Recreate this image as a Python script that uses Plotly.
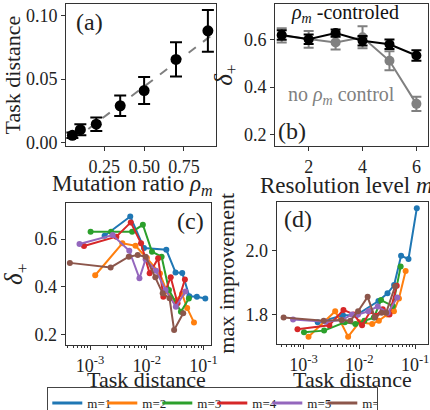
import plotly.graph_objects as go

# ---------------- data ----------------
# (a) task distance vs mutation ratio
rho = [0.05, 0.1, 0.2, 0.35, 0.5, 0.7, 0.9]
task_dist = [0.0058, 0.0102, 0.0145, 0.029, 0.041, 0.0655, 0.088]
task_err = [0.0022, 0.0043, 0.0053, 0.008, 0.0106, 0.0134, 0.0164]
fit_x = [0.15, 0.95]
fit_y = [0.0108, 0.087]

# (b) delta+ vs resolution level
levels = [1, 2, 3, 4, 5, 6]
ctrl = [0.618, 0.600, 0.626, 0.594, 0.579, 0.532]
ctrl_err = [0.02, 0.02, 0.015, 0.02, 0.02, 0.022]
noctrl = [0.616, 0.600, 0.587, 0.608, 0.510, 0.330]
noctrl_err = [0.03, 0.035, 0.03, 0.046, 0.04, 0.03]

# (c)/(d) per resolution level m
names = ["m=1", "m=2", "m=3", "m=4", "m=5", "m=6"]
colors = ["#1f77b4", "#ff7f0e", "#2ca02c", "#d62728", "#9467bd", "#8c564b"]
dist_m1 = [0.0018, 0.0051, 0.0089, 0.022, 0.032, 0.042, 0.056, 0.076, 0.107]
dist_m2 = [0.00123, 0.0037, 0.0063, 0.010, 0.017, 0.0224, 0.0316, 0.0417, 0.0513, 0.0676]
dist_m3 = [0.00102, 0.00234, 0.0055, 0.0085, 0.0123, 0.0182, 0.0245, 0.0398, 0.055]
dist_m4 = [0.00078, 0.0029, 0.0052, 0.0079, 0.0112, 0.0158, 0.0195, 0.0263, 0.0347, 0.0468]
dist_m5 = [0.00065, 0.0025, 0.0049, 0.0074, 0.0095, 0.0145, 0.0214, 0.0324, 0.0479]
dist_m6 = [0.00044, 0.0023, 0.0048, 0.0069, 0.0095, 0.0141, 0.019, 0.0251, 0.0302, 0.0437]

delta_m1 = [0.614, 0.695, 0.562, 0.555, 0.46, 0.458, 0.36, 0.358, 0.35]
delta_m2 = [0.448, 0.582, 0.572, 0.52, 0.455, 0.38, 0.34, 0.37, 0.31, 0.25]
delta_m3 = [0.631, 0.631, 0.631, 0.66, 0.547, 0.526, 0.386, 0.295, 0.35]
delta_m4 = [0.571, 0.61, 0.67, 0.582, 0.456, 0.519, 0.358, 0.44, 0.33, 0.43]
delta_m5 = [0.579, 0.617, 0.551, 0.435, 0.515, 0.467, 0.386, 0.316, 0.38]
delta_m6 = [0.5, 0.481, 0.526, 0.533, 0.526, 0.44, 0.372, 0.351, 0.218, 0.288]

impr_m1 = [1.775, 1.797, 1.798, 1.842, 1.866, 1.892, 1.984, 1.974, 2.133]
impr_m2 = [1.73, 1.81, 1.73, 1.775, 1.77, 1.78, 1.80, 1.81, 1.85, 1.936]
impr_m3 = [1.744, 1.749, 1.775, 1.77, 1.78, 1.79, 1.845, 1.826, 1.95]
impr_m4 = [1.753, 1.766, 1.814, 1.80, 1.766, 1.81, 1.795, 1.816, 1.80, 1.89]
impr_m5 = [1.784, 1.777, 1.782, 1.80, 1.80, 1.81, 1.825, 1.805, 1.853]
impr_m6 = [1.79, 1.78, 1.782, 1.78, 1.81, 1.855, 1.79, 1.805, 1.805, 1.888]

dists = [dist_m1, dist_m2, dist_m3, dist_m4, dist_m5, dist_m6]
deltas = [delta_m1, delta_m2, delta_m3, delta_m4, delta_m5, delta_m6]
imprs = [impr_m1, impr_m2, impr_m3, impr_m4, impr_m5, impr_m6]

log_ticks = [1e-3, 1e-2, 1e-1]
log_ticktext = ["10<sup>-3</sup>", "10<sup>-2</sup>", "10<sup>-1</sup>"]
minor_vals = [k * 10.0 ** e for e in (-4, -3, -2, -1) for k in range(2, 10)]

# ---------------- figure ----------------
FONT = "Liberation Serif, Times New Roman, serif"
fig = go.Figure()

# (a)
fig.add_trace(go.Scatter(x=fit_x, y=fit_y, mode="lines", xaxis="x", yaxis="y",
                         line=dict(color="#7f7f7f", width=2, dash="dash"), showlegend=False))
fig.add_trace(go.Scatter(x=rho, y=task_dist, mode="markers", xaxis="x", yaxis="y",
                         marker=dict(color="black", size=11),
                         error_y=dict(type="data", array=task_err, color="black", thickness=2, width=6),
                         showlegend=False))

# (b)
fig.add_trace(go.Scatter(x=levels, y=noctrl, mode="lines+markers", xaxis="x2", yaxis="y2",
                         line=dict(color="#808080", width=2), marker=dict(color="#808080", size=10),
                         error_y=dict(type="data", array=noctrl_err, color="#808080", thickness=2, width=5),
                         showlegend=False))
fig.add_trace(go.Scatter(x=levels, y=ctrl, mode="lines+markers", xaxis="x2", yaxis="y2",
                         line=dict(color="black", width=2), marker=dict(color="black", size=10),
                         error_y=dict(type="data", array=ctrl_err, color="black", thickness=2, width=5),
                         showlegend=False))

# (c) and (d)
for nm, col, dx, dy, iy in zip(names, colors, dists, deltas, imprs):
    fig.add_trace(go.Scatter(x=dx, y=dy, mode="lines+markers", xaxis="x3", yaxis="y3",
                             line=dict(color=col, width=2), marker=dict(color=col, size=6),
                             name=nm, legendgroup=nm, showlegend=False))
    fig.add_trace(go.Scatter(x=dx, y=iy, mode="lines+markers", xaxis="x4", yaxis="y4",
                             line=dict(color=col, width=2), marker=dict(color=col, size=6),
                             name=nm, legendgroup=nm, showlegend=False))
# legend entries (line only, as in the reference legend)
for nm, col in zip(names, colors):
    fig.add_trace(go.Scatter(x=[None], y=[None], mode="lines", xaxis="x3", yaxis="y3",
                             line=dict(color=col, width=3), name=nm, legendgroup=nm,
                             showlegend=True))

ax = dict(showline=True, linecolor="#333", linewidth=1, mirror=True, ticks="outside",
          ticklen=4, tickcolor="#333", showgrid=False, zeroline=False,
          tickfont=dict(family=FONT, size=18, color="#222"))
tfont = dict(family=FONT, size=22, color="#222")


def ann(text, x, y, size=24, color="#222", xanchor="center"):
    return dict(text=text, x=x, y=y, xref="paper", yref="paper", showarrow=False,
                xanchor=xanchor, yanchor="middle",
                font=dict(family=FONT, size=size, color=color))


fig.update_layout(
    width=430, height=410,
    margin=dict(l=0, r=0, t=0, b=0, autoexpand=False),
    paper_bgcolor="white", plot_bgcolor="white",
    font=dict(family=FONT, color="#222"),
    xaxis=dict(ax, domain=[0.1535, 0.502], anchor="y", range=[0.01, 0.95],
               tickvals=[0.25, 0.5, 0.75], ticktext=["0.25", "0.50", "0.75"]),
    yaxis=dict(ax, domain=[0.644, 0.990], anchor="x", range=[-0.0026, 0.109],
               tickvals=[0, 0.05, 0.1], ticktext=["0.00", "0.05", "0.10"],
               title=dict(text="Task distance", font=tfont, standoff=4)),
    xaxis2=dict(ax, domain=[0.6395, 0.9953], anchor="y2", range=[0.75, 6.43],
                tickvals=[2, 4, 6]),
    yaxis2=dict(ax, domain=[0.644, 0.990], anchor="x2", range=[0.154, 0.747],
                tickvals=[0.2, 0.4, 0.6], ticktext=["0.2", "0.4", "0.6"],
                title=dict(text="<i>δ</i><sub>+</sub>", font=dict(tfont, size=25), standoff=4)),
    xaxis3=dict(ax, domain=[0.1528, 0.4907], anchor="y3", type="log", range=[-3.43, -0.87],
                tickvals=log_ticks, ticktext=log_ticktext,
                minor=dict(tickvals=minor_vals, ticks="outside", ticklen=2, tickcolor="#333")),
    yaxis3=dict(ax, domain=[0.1585, 0.504], anchor="x3", range=[0.155, 0.75],
                tickvals=[0.2, 0.4, 0.6], ticktext=["0.2", "0.4", "0.6"],
                title=dict(text="<i>δ</i><sub>+</sub>", font=dict(tfont, size=25), standoff=4)),
    xaxis4=dict(ax, domain=[0.6435, 0.9953], anchor="y4", type="log", range=[-3.48, -0.77],
                tickvals=log_ticks, ticktext=log_ticktext,
                minor=dict(tickvals=minor_vals, ticks="outside", ticklen=2, tickcolor="#333")),
    yaxis4=dict(ax, domain=[0.1602, 0.5066], anchor="x4", range=[1.706, 2.152],
                tickvals=[1.8, 2.0], ticktext=["1.8", "2.0"],
                title=dict(text="max improvement", font=tfont, standoff=4)),
    legend=dict(orientation="h", x=0.11, y=0.056, xanchor="left", yanchor="top",
                bgcolor="white", bordercolor="#444", borderwidth=1,
                font=dict(family=FONT, size=13, color="#222"),
                entrywidth=10, tracegroupgap=0, itemwidth=30),
    annotations=[
        ann("Mutation ratio <i>ρ<sub>m</sub></i>", 0.116, 0.548, size=23, xanchor="left"),
        ann("Resolution level <i>m</i>", 0.600, 0.548, size=23, xanchor="left"),
        ann("Task distance", 0.341, 0.0756, size=22),
        ann("Task distance", 0.820, 0.0756, size=22),
        ann("(a)", 0.207, 0.946),
        ann("(b)", 0.679, 0.680),
        ann("(c)", 0.444, 0.461),
        ann("(d)", 0.693, 0.466),
        ann("<i>ρ<sub>m</sub></i> -controled", 0.802, 0.966, size=20, color="#111"),
        ann("no <i>ρ<sub>m</sub></i> control", 0.795, 0.766, size=20, color="#808080"),
    ],
)

fig.write_html("out.html", config={"displayModeBar": False},
               post_script="document.body.style.margin='0px';document.body.style.overflow='hidden';")
